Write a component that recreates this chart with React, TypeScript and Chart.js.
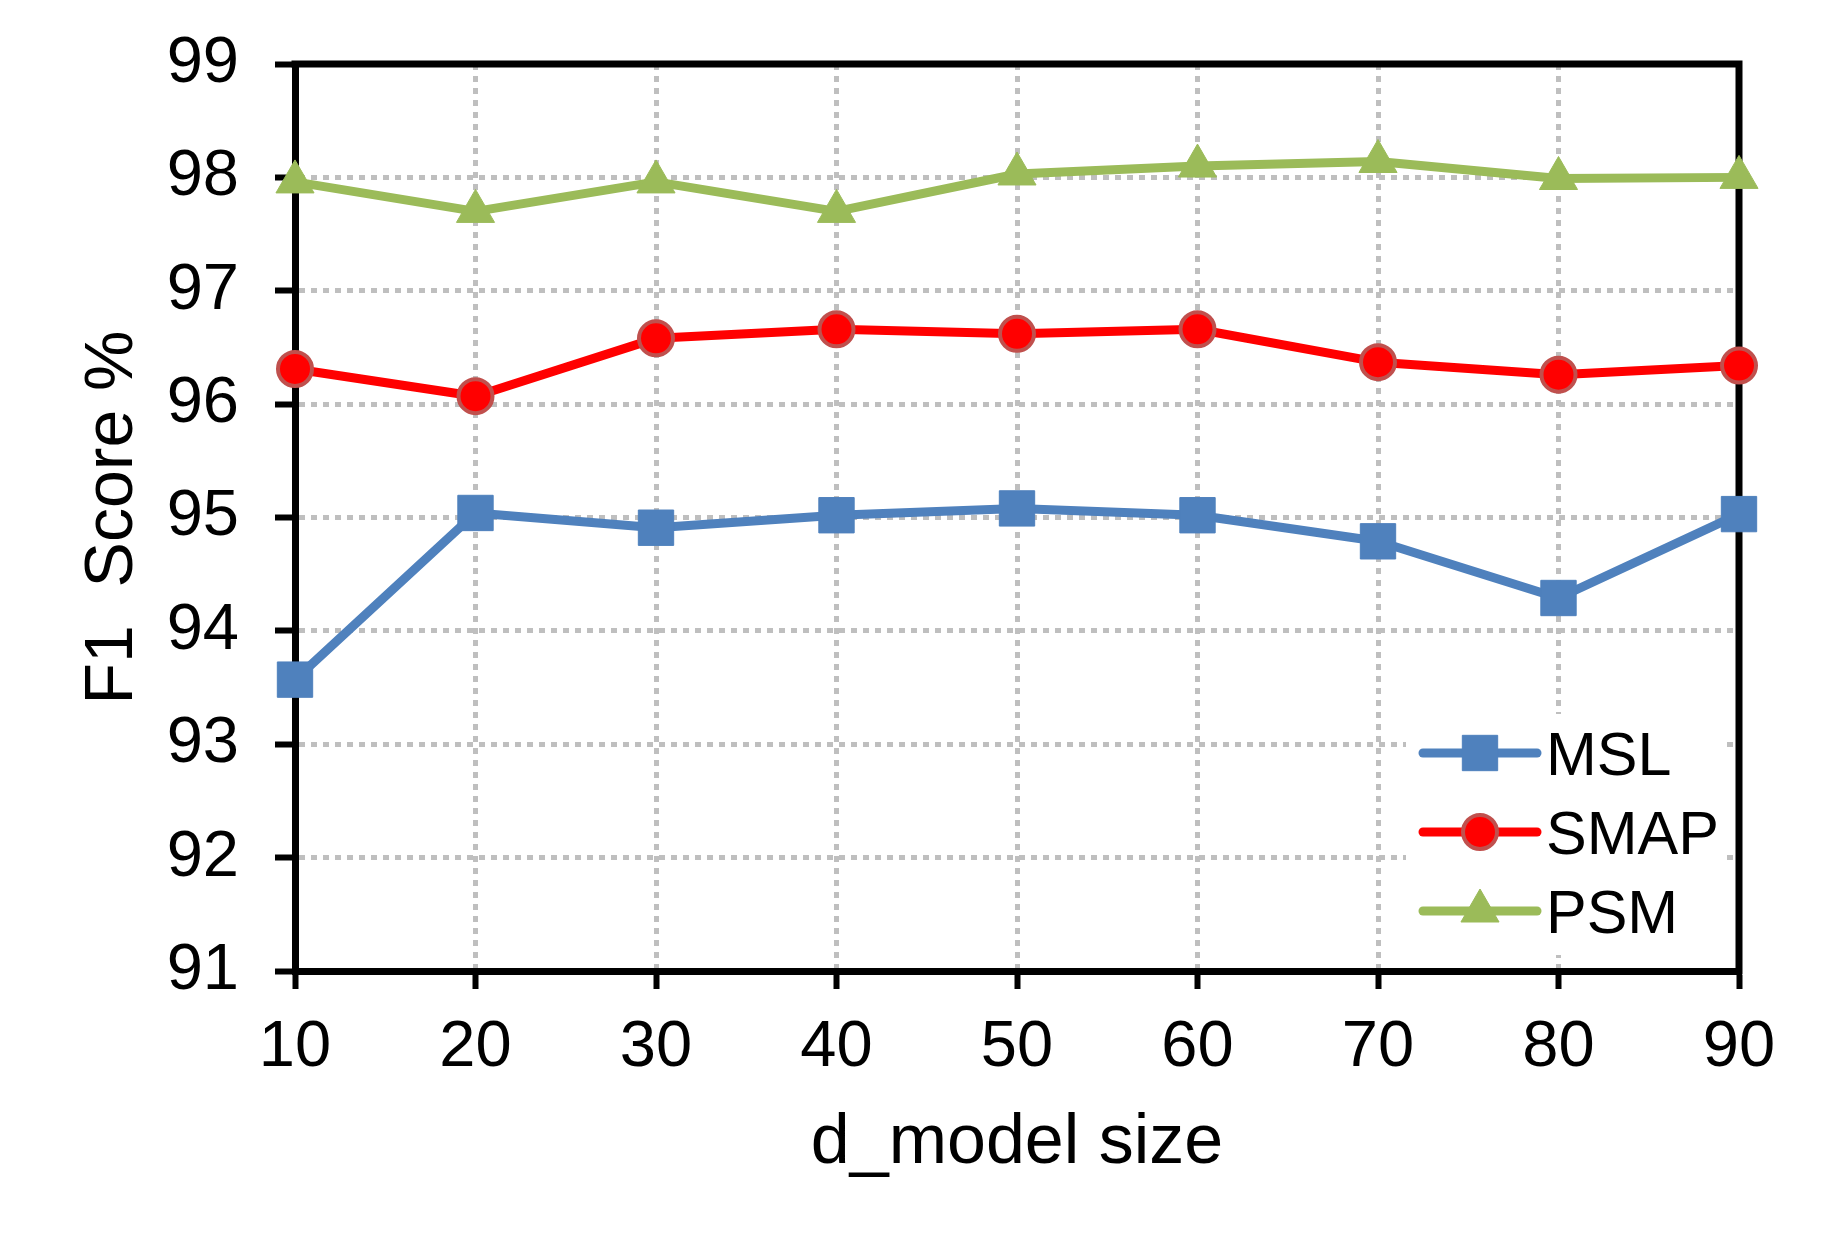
import React, { useEffect, useRef } from 'react';
import { Chart, registerables } from 'chart.js';

Chart.register(...registerables);

const categories = ['10', '20', '30', '40', '50', '60', '70', '80', '90'];
const mslValues = [93.57, 95.04, 94.91, 95.02, 95.08, 95.02, 94.79, 94.29, 95.03];
const smapValues = [96.31, 96.07, 96.58, 96.66, 96.62, 96.66, 96.37, 96.26, 96.34];
const psmValues = [97.96, 97.7, 97.96, 97.7, 98.03, 98.1, 98.14, 97.99, 98.0];
const yMin = 91;
const yMax = 99;
const xTitle = 'd_model size';
const yTitle = 'F1  Score %';

const FONT = "'Liberation Sans', Arial, Helvetica, sans-serif";

const frameColor = '#000000';
const frameWidth = 7;

const framePlugin = {
  id: 'topRightFrame',
  beforeDatasetsDraw(chart: any) {
    const { ctx, chartArea } = chart;
    ctx.save();
    ctx.strokeStyle = frameColor;
    ctx.lineWidth = frameWidth;
    ctx.lineCap = 'square';
    ctx.beginPath();
    ctx.moveTo(chartArea.left, chartArea.top);
    ctx.lineTo(chartArea.right, chartArea.top);
    ctx.lineTo(chartArea.right, chartArea.bottom);
    ctx.stroke();
    ctx.restore();
  },
};

function drawMarker(ctx: CanvasRenderingContext2D, ds: any, x: number, y: number) {
  const r = ds.pointRadius;
  ctx.save();
  ctx.fillStyle = ds.pointBackgroundColor;
  ctx.strokeStyle = ds.pointBorderColor;
  ctx.lineWidth = ds.pointBorderWidth;
  ctx.beginPath();
  if (ds.pointStyle === 'rect') {
    const s = r * Math.SQRT1_2;
    ctx.rect(x - s, y - s, 2 * s, 2 * s);
  } else if (ds.pointStyle === 'triangle') {
    let rad = 0;
    ctx.moveTo(x + Math.sin(rad) * r, y - Math.cos(rad) * r);
    rad += (2 * Math.PI) / 3;
    ctx.lineTo(x + Math.sin(rad) * r, y - Math.cos(rad) * r);
    rad += (2 * Math.PI) / 3;
    ctx.lineTo(x + Math.sin(rad) * r, y - Math.cos(rad) * r);
    ctx.closePath();
  } else {
    ctx.arc(x, y, r, 0, Math.PI * 2);
  }
  ctx.fill();
  if (ds.pointBorderWidth) ctx.stroke();
  ctx.restore();
}

const legendPlugin = {
  id: 'insideLegend',
  afterDatasetsDraw(chart: any) {
    const { ctx, chartArea } = chart;
    const right = chartArea.right;
    const bottom = chartArea.bottom;
    ctx.save();
    ctx.fillStyle = '#ffffff';
    ctx.fillRect(right - 333, bottom - 257, 318, 241);
    const rows = [bottom - 218, bottom - 139, bottom - 60];
    chart.data.datasets.forEach((ds: any, i: number) => {
      const y = rows[i];
      ctx.save();
      ctx.strokeStyle = ds.borderColor;
      ctx.lineWidth = ds.borderWidth;
      ctx.lineCap = 'round';
      ctx.beginPath();
      ctx.moveTo(right - 316, y);
      ctx.lineTo(right - 202, y);
      ctx.stroke();
      ctx.restore();
      drawMarker(ctx, ds, right - 259, y);
      ctx.fillStyle = '#000000';
      ctx.font = `61px ${FONT}`;
      ctx.textAlign = 'left';
      ctx.textBaseline = 'alphabetic';
      ctx.fillText(ds.label, right - 193, y + 22);
    });
    ctx.restore();
  },
};

export default function App() {
  const canvasRef = useRef<HTMLCanvasElement | null>(null);

  useEffect(() => {
    if (!canvasRef.current) return;
    const gridCommon = {
      color: '#BFBFBF',
      lineWidth: 5,
      drawTicks: true,
      tickColor: '#000000',
      tickWidth: 6,
      tickBorderDash: [],
    };
    const chart = new Chart(canvasRef.current, {
      type: 'line',
      data: {
        labels: categories,
        datasets: [
          {
            label: 'MSL',
            data: mslValues,
            borderColor: '#4F81BD',
            backgroundColor: '#4F81BD',
            borderWidth: 9,
            pointStyle: 'rect',
            pointRadius: 25,
            pointHoverRadius: 25,
            pointBackgroundColor: '#4F81BD',
            pointBorderColor: '#4F81BD',
            pointBorderWidth: 1,
            borderCapStyle: 'round',
            borderJoinStyle: 'round',
            clip: false,
          },
          {
            label: 'SMAP',
            data: smapValues,
            borderColor: '#FF0000',
            backgroundColor: '#FF0000',
            borderWidth: 9,
            pointStyle: 'circle',
            pointRadius: 17,
            pointHoverRadius: 17,
            pointBackgroundColor: '#FF0000',
            pointBorderColor: '#C0504D',
            pointBorderWidth: 4,
            borderCapStyle: 'round',
            borderJoinStyle: 'round',
            clip: false,
          },
          {
            label: 'PSM',
            data: psmValues,
            borderColor: '#9BBB59',
            backgroundColor: '#9BBB59',
            borderWidth: 9,
            pointStyle: 'triangle',
            pointRadius: 22,
            pointHoverRadius: 22,
            pointBackgroundColor: '#9BBB59',
            pointBorderColor: '#9BBB59',
            pointBorderWidth: 1,
            borderCapStyle: 'round',
            borderJoinStyle: 'round',
            clip: false,
          },
        ],
      },
      options: {
        animation: false,
        responsive: false,
        devicePixelRatio: 1,
        events: [],
        layout: { padding: { top: 64, right: 100, left: 0, bottom: 0 } },
        plugins: {
          legend: { display: false },
          tooltip: { enabled: false },
          title: { display: false },
        },
        scales: {
          x: {
            type: 'category',
            offset: false,
            grid: { ...gridCommon, tickLength: 18, offset: false },
            border: { display: true, color: frameColor, width: frameWidth, dash: [6, 6] },
            ticks: {
              color: '#000000',
              font: { family: FONT, size: 65, lineHeight: 1.2 },
              padding: 20,
              maxRotation: 0,
              autoSkip: false,
            },
            title: {
              display: true,
              text: xTitle,
              color: '#000000',
              font: { family: FONT, size: 70, lineHeight: 1.2 },
              padding: { top: 0, bottom: 64 },
            },
            afterFit(scale: any) {
              scale.height = 279;
              scale.paddingLeft = 0;
              scale.paddingRight = 0;
            },
          },
          y: {
            type: 'linear',
            min: yMin,
            max: yMax,
            grid: { ...gridCommon, tickLength: 20 },
            border: { display: true, color: frameColor, width: frameWidth, dash: [6, 6] },
            ticks: {
              stepSize: 1,
              color: '#000000',
              font: { family: FONT, size: 65, lineHeight: 1.2 },
              padding: 36,
            },
            title: {
              display: true,
              text: yTitle,
              color: '#000000',
              font: { family: FONT, size: 68, lineHeight: 1.2 },
              padding: { top: 72, bottom: 0 },
            },
            afterFit(scale: any) {
              scale.width = 295;
              scale.paddingTop = 0;
              scale.paddingBottom = 0;
            },
          },
        },
      },
      plugins: [framePlugin, legendPlugin],
    } as any);
    return () => chart.destroy();
  }, []);

  return (
    <div style={{ position: 'absolute', left: 0, top: 0, width: 1839, height: 1250, background: '#ffffff' }}>
      <canvas ref={canvasRef} width={1839} height={1250} style={{ width: 1839, height: 1250, display: 'block' }} />
    </div>
  );
}
